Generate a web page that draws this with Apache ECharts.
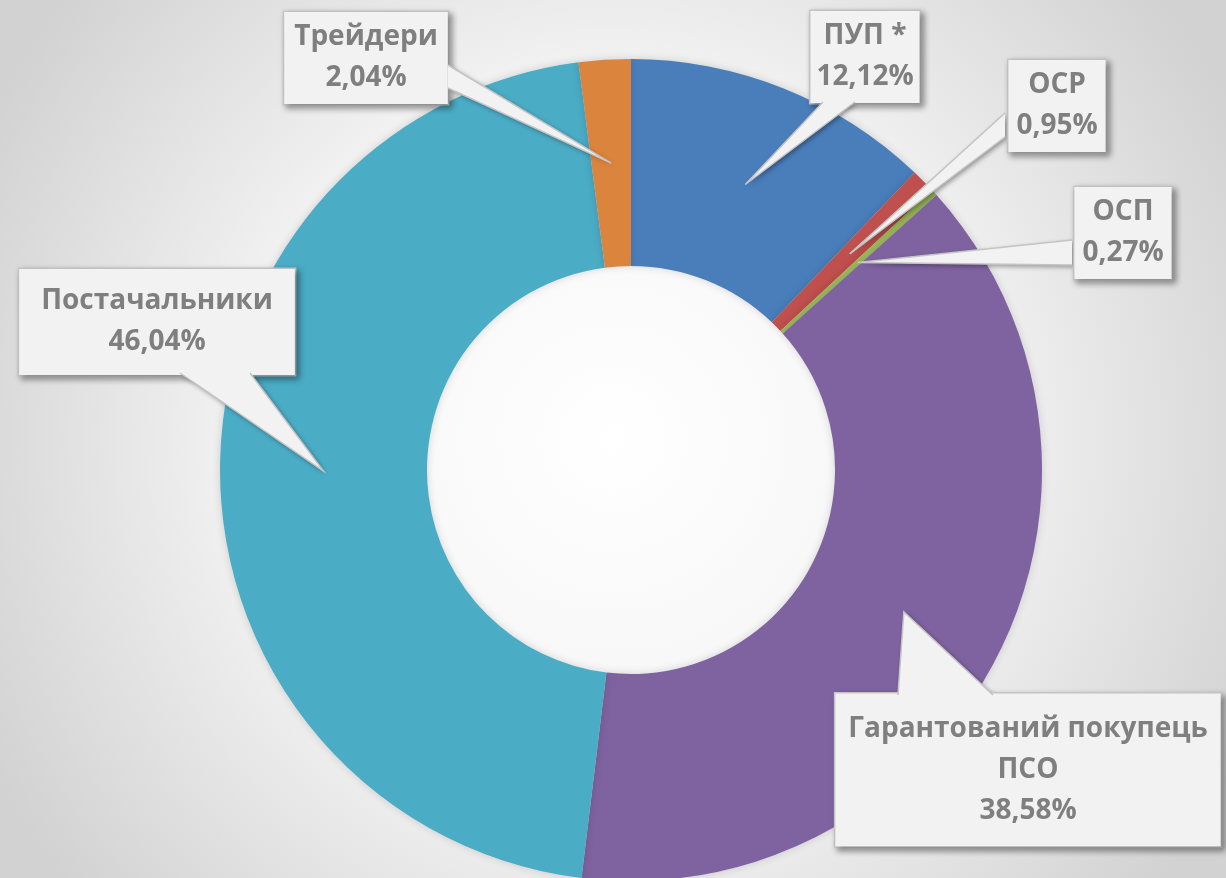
<!DOCTYPE html>
<html>
<head>
<meta charset="utf-8">
<script src="https://cdn.jsdelivr.net/npm/echarts@6/dist/echarts.min.js"></script>
<style>
  html, body { margin: 0; padding: 0; }
  #main { width: 1226px; height: 878px; }
</style>
</head>
<body>
<div id="main"></div>
<script>
// дані діаграми
var names = ['ПУП *', 'ОСР', 'ОСП', 'Гарантований покупець\nПСО', 'Постачальники', 'Трейдери'];
var values = [12.12, 0.95, 0.27, 38.58, 46.04, 2.04];
var colors = ['#4a7ebb', '#c0504d', '#9bbb59', '#7f63a1', '#4bacc6', '#db843d'];

// виноски: центр рамки, відступи, основа «хвостика» на рамці
var labelPos = [[865, 57], [1057, 106], [1123, 233], [1028, 770], [157, 322], [366, 58]];
var labelPad = [[5, 6], [5, 8], [5, 8], [15, 13], [12, 22], [5, 10]];
var tailBase = [
    [[823, 102], [855, 102]],
    [[1005, 113], [1005, 137]],
    [[1072, 240], [1072, 265]],
    [[898, 695], [993, 695]],
    [[180, 373], [250, 373]],
    [[448, 65], [448, 88]]
];

var CX = 631, CY = 470, R0 = 204, R1 = 411;

var chart = echarts.init(document.getElementById('main'));

var ringData = [];
var labelData = [];
for (var i = 0; i < values.length; i++) {
    ringData.push({ name: names[i], value: values[i], itemStyle: { color: colors[i] } });
    labelData.push({ name: names[i], value: values[i], label: { padding: labelPad[i] } });
}

var option = {
    backgroundColor: new echarts.graphic.RadialGradient(0.5, 0.5, 0.8, [
        { offset: 0, color: '#ffffff' },
        { offset: 0.5, color: '#f4f4f4' },
        { offset: 1, color: '#d2d2d2' }
    ]),
    animation: false,
    series: [
        {
            // кільце
            type: 'pie',
            z: 1,
            center: [CX, CY],
            radius: [R0, R1],
            startAngle: 90,
            clockwise: true,
            silent: true,
            itemStyle: {
                borderWidth: 0,
                shadowColor: 'rgba(0,0,0,0.15)',
                shadowBlur: 8
            },
            label: { show: false },
            labelLine: { show: false },
            data: ringData
        },
        {
            // рамки з підписами
            type: 'pie',
            z: 3,
            center: [CX, CY],
            radius: [R0, R1],
            startAngle: 90,
            clockwise: true,
            silent: true,
            avoidLabelOverlap: false,
            itemStyle: { color: 'rgba(0,0,0,0)', borderWidth: 0 },
            label: {
                show: true,
                position: 'outside',
                formatter: function (p) {
                    return p.name + '\n' + p.value.toFixed(2).replace('.', ',') + '%';
                },
                fontFamily: 'Open Sans',
                fontWeight: 'bold',
                fontSize: 28,
                lineHeight: 41,
                color: '#7f7f7f',
                align: 'center',
                backgroundColor: '#f2f2f2',
                borderColor: '#c9c9c9',
                borderWidth: 1.5,
                shadowColor: 'rgba(0,0,0,0.35)',
                shadowBlur: 6,
                shadowOffsetX: 3,
                shadowOffsetY: 3
            },
            labelLine: { show: false },
            labelLayout: function (params) {
                var p = labelPos[params.dataIndex];
                return { x: p[0], y: p[1], align: 'center', verticalAlign: 'middle' };
            },
            data: labelData
        }
    ]
};

chart.setOption(option);

// «хвостики» виносок: вістря — посередині кільця, на середині сектора
var ringList = chart.getModel().getSeriesByIndex(0).getData();
var tails = [];
var rMid = (R0 + R1) / 2;
for (var j = 0; j < values.length; j++) {
    var lay = ringList.getItemLayout(j);
    var mid = (lay.startAngle + lay.endAngle) / 2;
    var tip = [lay.cx + rMid * Math.cos(mid), lay.cy + rMid * Math.sin(mid)];
    var a = tailBase[j][0], b = tailBase[j][1];
    tails.push({
        type: 'polygon', z: 2, silent: true,
        shape: { points: [a, tip, b] },
        style: { fill: '#f2f2f2', shadowColor: 'rgba(0,0,0,0.4)', shadowBlur: 5, shadowOffsetX: 2, shadowOffsetY: 2 }
    });
    tails.push({
        type: 'polygon', z: 4, silent: true,
        shape: { points: [a, tip, b] },
        style: { fill: '#f2f2f2' }
    });
    tails.push({
        type: 'polyline', z: 4, silent: true,
        shape: { points: [a, tip, b] },
        style: { stroke: '#c4c4c4', lineWidth: 1.5, fill: null }
    });
}
chart.setOption({ graphic: { elements: tails } });
</script>
</body>
</html>
